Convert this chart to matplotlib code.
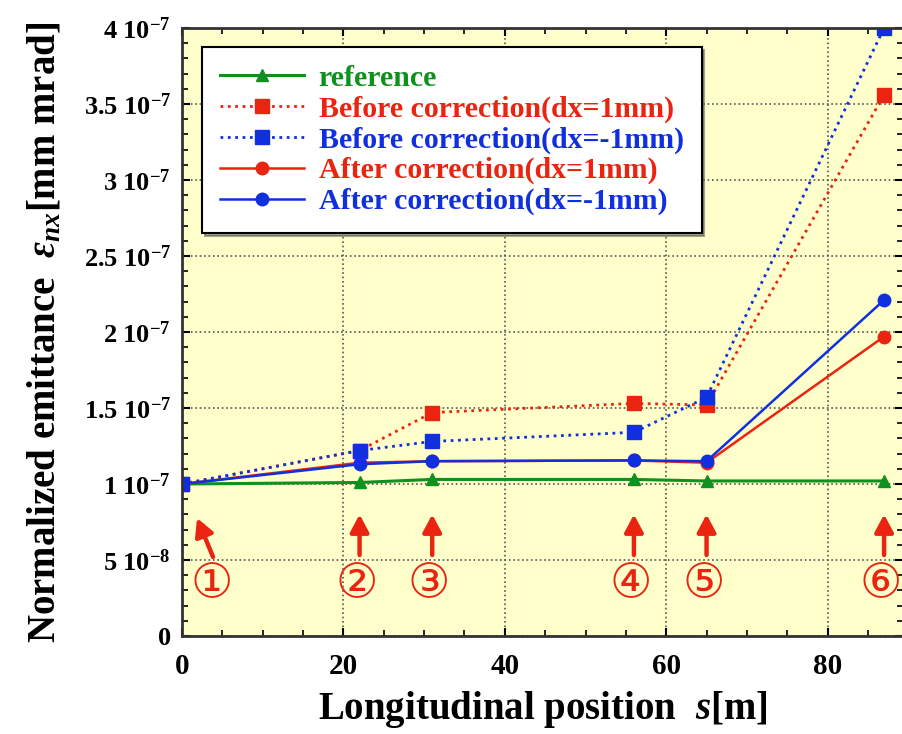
import numpy as np
import matplotlib.pyplot as plt
from matplotlib.ticker import MultipleLocator, FuncFormatter

plt.rcParams['font.family'] = ['Liberation Serif', 'DejaVu Serif']
plt.rcParams['font.weight'] = 'bold'
plt.rcParams['axes.labelweight'] = 'bold'
plt.rcParams['mathtext.fontset'] = 'custom'
plt.rcParams['mathtext.rm'] = 'Liberation Serif:bold'
plt.rcParams['mathtext.it'] = 'Liberation Serif:bold:italic'
plt.rcParams['mathtext.bf'] = 'Liberation Serif:bold'

# data
s = [0, 22, 31, 56, 65, 87]
reference = [1.0e-7, 1.01e-7, 1.03e-7, 1.03e-7, 1.02e-7, 1.02e-7]
before_p1 = [1.0e-7, 1.22e-7, 1.47e-7, 1.53e-7, 1.52e-7, 3.56e-7]
before_m1 = [1.0e-7, 1.22e-7, 1.28e-7, 1.34e-7, 1.57e-7, 4.0e-7]
after_p1 = [1.0e-7, 1.14e-7, 1.15e-7, 1.155e-7, 1.14e-7, 1.97e-7]
after_m1 = [1.0e-7, 1.13e-7, 1.15e-7, 1.155e-7, 1.15e-7, 2.21e-7]
marks = ['①', '②', '③', '④', '⑤', '⑥']

green = '#10901e'
red = '#ea2410'
blue = '#1030e0'

fig = plt.figure(figsize=(9.03, 7.34), dpi=100)
ax = fig.add_axes([0.2016, 0.1335, 0.798, 0.8284])
ax.set_facecolor('#ffffcc')

h_ref, = ax.plot(s, reference, '-', color=green, lw=2.2, marker='^', ms=8, label='reference')
h_ap, = ax.plot(s, after_p1, '-', color=red, lw=1.8, marker='o', ms=9, label='After correction(dx=1mm)')
h_am, = ax.plot(s, after_m1, '-', color=blue, lw=1.8, marker='o', ms=9, label='After correction(dx=-1mm)')
h_bp, = ax.plot(s, before_p1, ':', color=red, lw=2, marker='s', ms=10, label='Before correction(dx=1mm)')
h_bm, = ax.plot(s, before_m1, ':', color=blue, lw=2, marker='s', ms=10, label='Before correction(dx=-1mm)')

ax.set_xlim(0, 89.3)
ax.set_ylim(0, 4e-7)
ax.xaxis.set_major_locator(MultipleLocator(20))
ax.xaxis.set_minor_locator(MultipleLocator(5))
ax.yaxis.set_major_locator(MultipleLocator(0.5e-7))
ax.yaxis.set_minor_locator(MultipleLocator(1e-8))


def yfmt(v, pos):
    if abs(v) < 1e-12:
        return '0'
    e = int(np.floor(np.log10(abs(v)) + 1e-9))
    m = v / 10 ** e
    ms_ = ('%.1f' % m).rstrip('0').rstrip('.')
    return ms_ + ' 10$^{' + str(e) + '}$'


ax.yaxis.set_major_formatter(FuncFormatter(yfmt))
ax.tick_params(which='both', direction='in', top=True, right=True)
ax.tick_params(which='major', length=6, width=1.5)
ax.tick_params(which='minor', length=4, width=1.2)
ax.tick_params(axis='y', labelsize=19, pad=8)
ax.tick_params(axis='x', labelsize=21, pad=12)
for sp in ax.spines.values():
    sp.set_linewidth(2)
    sp.set_color('#333333')
ax.grid(True, which='major', ls=':', color='#555555', lw=1.2)
ax.set_axisbelow(True)

ax.set_xlabel('Longitudinal position  $s$[m]', fontsize=28, labelpad=7)
ax.set_ylabel('Normalized emittance  $\\varepsilon_{nx}$[mm mrad]', fontsize=28, labelpad=14)

# arrows and circled numbers
for i, (x, m) in enumerate(zip(s, marks)):
    if i == 0:
        tail, tip, tx = (3.84, 0.52e-7), (1.86, 0.776e-7), 3.7
    else:
        tail, tip, tx = (x, 0.533e-7), (x, 0.80e-7), x - 0.4
    ax.annotate('', xy=tip, xytext=tail,
                arrowprops=dict(arrowstyle='-|>,head_width=0.4,head_length=0.75',
                                mutation_scale=14, color=red, lw=3.2, shrinkA=0, shrinkB=0))
    ax.text(tx, 0.336e-7, m, color=red, fontsize=34, ha='center', va='center',
            family=['DejaVu Sans'], fontweight='normal')

leg = ax.legend(handles=[h_ref, h_bp, h_bm, h_ap, h_am], loc='upper left',
                bbox_to_anchor=(0.028, 0.969), fontsize=21.5, frameon=True, fancybox=False,
                shadow=True, handlelength=2.8, borderpad=0.6, labelspacing=0.12,
                handletextpad=0.5, borderaxespad=0)
leg.get_frame().set_edgecolor('black')
leg.get_frame().set_linewidth(1.5)
for t, c in zip(leg.get_texts(), [green, red, blue, red, blue]):
    t.set_color(c)

fig.savefig('out.png', dpi=100)
